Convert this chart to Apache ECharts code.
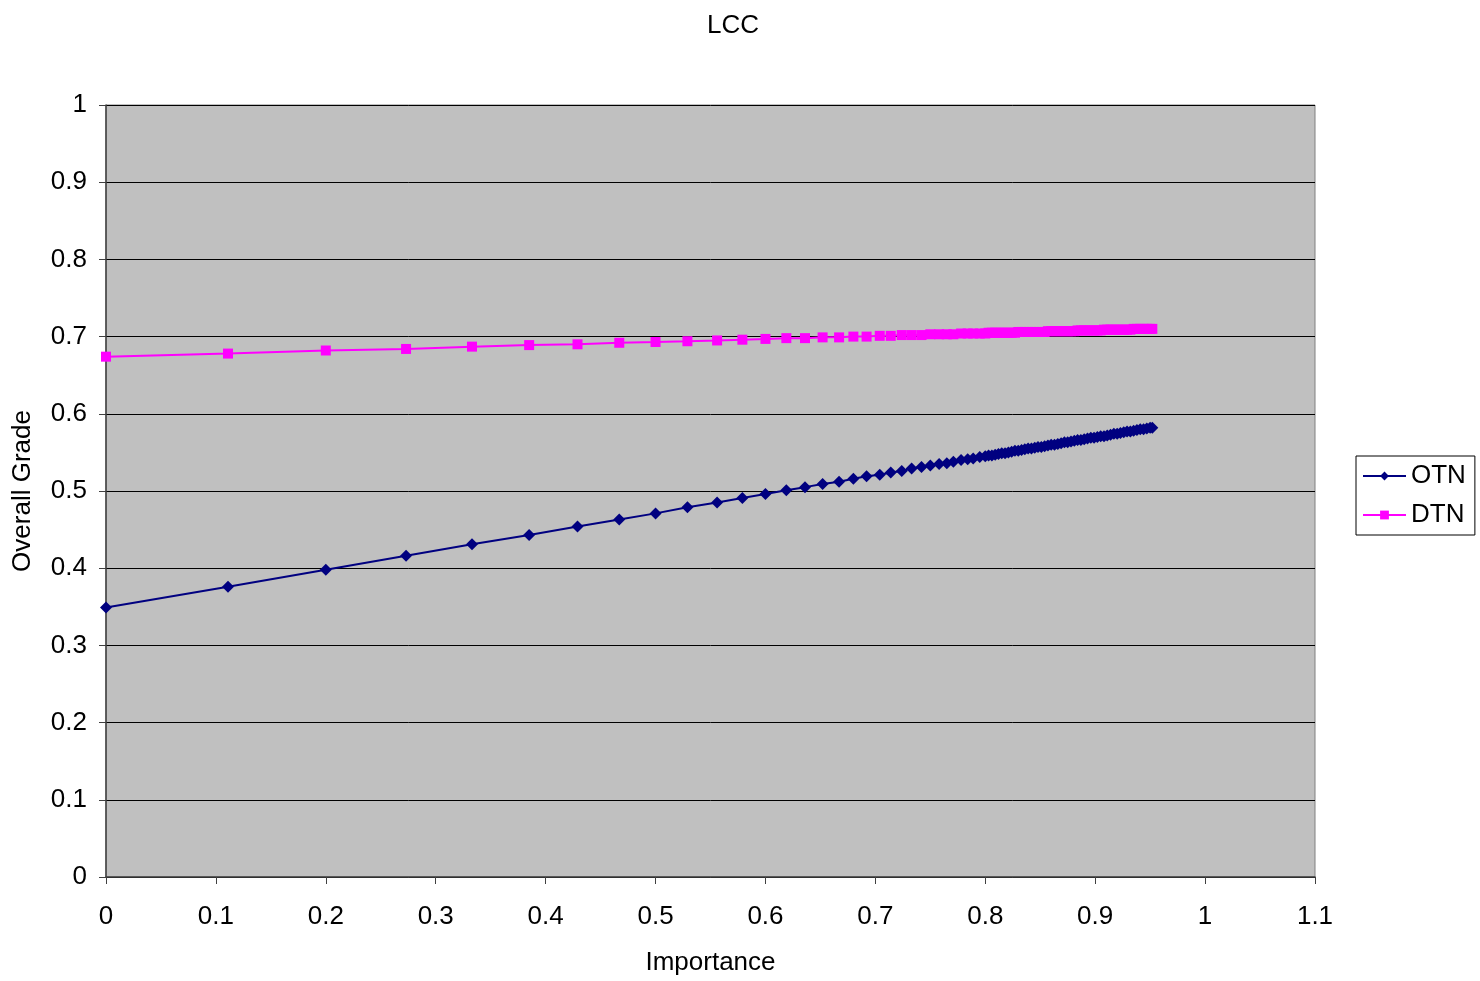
<!DOCTYPE html>
<html>
<head>
<meta charset="utf-8">
<script src="https://cdn.jsdelivr.net/npm/echarts@6/dist/echarts.min.js"></script>
<style>
  html, body { margin: 0; padding: 0; background: #fff; }
  #main { width: 1480px; height: 981px; }
</style>
</head>
<body>
<div id="main"></div>
<script>
// Importance (x) values (dense tail read as a band)
const importance = [
  0, 0.111, 0.2, 0.273, 0.333, 0.385, 0.429, 0.467, 0.5, 0.529,
  0.556, 0.579, 0.6, 0.619, 0.636, 0.652, 0.667, 0.68, 0.692, 0.704,
  0.714, 0.724, 0.733, 0.742, 0.75, 0.758, 0.765, 0.771, 0.778, 0.784,
  0.789, 0.795, 0.8,
  0.803, 0.806, 0.809, 0.812, 0.815, 0.818, 0.821, 0.824, 0.827, 0.83,
  0.833, 0.836, 0.839, 0.842, 0.845, 0.848, 0.851, 0.854, 0.857, 0.86,
  0.863, 0.866, 0.869, 0.872, 0.875, 0.878, 0.881, 0.884, 0.887, 0.89,
  0.893, 0.896, 0.899, 0.902, 0.905, 0.908, 0.911, 0.914, 0.917, 0.92,
  0.923, 0.926, 0.929, 0.932, 0.935, 0.938, 0.941, 0.944, 0.947, 0.95,
  0.952
];
// Overall grade - OTN
const otn = [
  0.349, 0.376, 0.398, 0.416, 0.431, 0.443, 0.454, 0.463, 0.471, 0.479,
  0.485, 0.491, 0.496, 0.501, 0.505, 0.509, 0.512, 0.516, 0.519, 0.521,
  0.524, 0.526, 0.529, 0.531, 0.533, 0.535, 0.536, 0.538, 0.540, 0.541,
  0.542, 0.544, 0.545,
  0.546, 0.546, 0.547, 0.548, 0.549, 0.549, 0.550, 0.551, 0.552, 0.552,
  0.553, 0.554, 0.555, 0.555, 0.556, 0.557, 0.557, 0.558, 0.559, 0.560,
  0.560, 0.561, 0.562, 0.563, 0.563, 0.564, 0.565, 0.566, 0.566, 0.567,
  0.568, 0.569, 0.569, 0.570, 0.571, 0.571, 0.572, 0.573, 0.574, 0.574,
  0.575, 0.576, 0.577, 0.577, 0.578, 0.579, 0.580, 0.580, 0.581, 0.582,
  0.582
];
// Overall grade - DTN
const dtn = [
  0.674, 0.678, 0.682, 0.684, 0.687, 0.689, 0.690, 0.692, 0.693, 0.694,
  0.695, 0.696, 0.697, 0.698, 0.698, 0.699, 0.699, 0.700, 0.700, 0.701,
  0.701, 0.702, 0.702, 0.702, 0.703, 0.703, 0.703, 0.703, 0.704, 0.704,
  0.704, 0.704, 0.704,
  0.705, 0.705, 0.705, 0.705, 0.705, 0.705, 0.705, 0.705, 0.705, 0.706,
  0.706, 0.706, 0.706, 0.706, 0.706, 0.706, 0.706, 0.706, 0.707, 0.707,
  0.707, 0.707, 0.707, 0.707, 0.707, 0.707, 0.707, 0.708, 0.708, 0.708,
  0.708, 0.708, 0.708, 0.708, 0.708, 0.709, 0.709, 0.709, 0.709, 0.709,
  0.709, 0.709, 0.709, 0.709, 0.710, 0.710, 0.710, 0.710, 0.710, 0.710,
  0.710
];

const font = 'Arial, "Liberation Sans", sans-serif';

function pairs(xs, ys) {
  let out = [];
  for (let i = 0; i < xs.length; i++) {
    out.push([xs[i], ys[i]]);
  }
  return out;
}

const chart = echarts.init(document.getElementById('main'));
chart.setOption({
  animation: false,
  backgroundColor: '#ffffff',
  textStyle: { fontFamily: font },
  title: {
    text: 'LCC',
    left: 702,
    top: 8,
    textStyle: { fontFamily: font, fontSize: 26, fontWeight: 'normal', color: '#000' }
  },
  legend: {
    orient: 'vertical',
    left: 1356,
    top: 456,
    padding: [7, 9, 7, 6],
    itemGap: 13,
    itemWidth: 43,
    itemHeight: 11,
    borderColor: '#000',
    borderWidth: 1,
    backgroundColor: '#fff',
    textStyle: { fontFamily: font, fontSize: 26, color: '#000' },
    data: ['OTN', 'DTN']
  },
  grid: {
    left: 106,
    right: 165,
    top: 105,
    bottom: 103,
    show: true,
    backgroundColor: '#c0c0c0',
    borderColor: '#808080',
    borderWidth: 1
  },
  xAxis: {
    type: 'value',
    min: 0,
    max: 1.1,
    interval: 0.1,
    name: 'Importance',
    nameLocation: 'middle',
    nameGap: 73,
    nameTextStyle: { fontFamily: font, fontSize: 26, color: '#000' },
    axisLine: { lineStyle: { color: '#404040', width: 1.5 } },
    axisTick: { show: true, inside: false, length: 7, lineStyle: { color: '#404040' } },
    axisLabel: { fontFamily: font, fontSize: 26, color: '#000', margin: 27 },
    splitLine: { show: false }
  },
  yAxis: {
    type: 'value',
    min: 0,
    max: 1,
    interval: 0.1,
    name: 'Overall Grade',
    nameLocation: 'middle',
    nameGap: 70,
    nameTextStyle: { fontFamily: font, fontSize: 26, color: '#000' },
    axisLine: { show: true, lineStyle: { color: '#404040', width: 1.5 } },
    axisTick: { show: true, inside: false, length: 7, lineStyle: { color: '#404040' } },
    axisLabel: { fontFamily: font, fontSize: 26, color: '#000', margin: 19 },
    splitLine: { show: true, lineStyle: { color: '#000', width: 1 } }
  },
  series: [
    {
      name: 'OTN',
      type: 'line',
      data: pairs(importance, otn),
      symbol: 'diamond',
      symbolSize: 12,
      showAllSymbol: true,
      lineStyle: { color: '#000080', width: 2 },
      itemStyle: { color: '#000080' }
    },
    {
      name: 'DTN',
      type: 'line',
      data: pairs(importance, dtn),
      symbol: 'rect',
      symbolSize: 10,
      showAllSymbol: true,
      lineStyle: { color: '#ff00ff', width: 2 },
      itemStyle: { color: '#ff00ff' }
    }
  ]
});
</script>
</body>
</html>
